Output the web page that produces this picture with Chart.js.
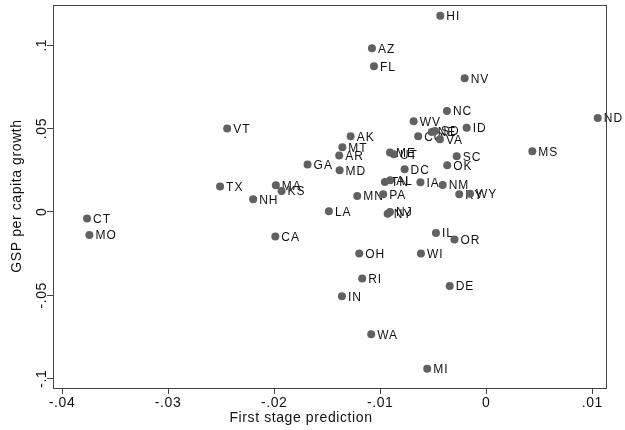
<!DOCTYPE html>
<html><head><meta charset="utf-8">
<script src="https://cdn.jsdelivr.net/npm/chart.js@4/dist/chart.umd.min.js"></script>
<style>html,body{margin:0;padding:0;background:#fff}#wrap{width:625px;height:430px}</style>
</head><body><div id="wrap"><canvas id="c" width="625" height="430"></canvas></div>
<script>
const states = ['HI','AZ','FL','NV','NC','WV','ID','NE','SD','CO','VA','AK','MT','AR','ME','UT','SC','GA','MD','DC','OK','TN','AL','IA','NM','MA','KS','MN','PA','LA','KY','WY','NJ','NY','TX','VT','NH','CT','MO','CA','IL','OR','OH','WI','RI','IN','DE','WA','MI','ND','MS'];
const firstStage = [-0.00434,-0.01078,-0.01059,-0.00204,-0.00371,-0.00685,-0.00185,-0.00515,-0.00484,-0.00642,-0.00437,-0.01279,-0.01357,-0.01387,-0.00908,-0.00871,-0.00279,-0.01685,-0.01383,-0.0077,-0.00368,-0.00956,-0.00906,-0.00621,-0.00411,-0.01984,-0.0193,-0.01217,-0.00972,-0.01484,-0.00255,-0.00154,-0.00908,-0.0093,-0.0251,-0.02443,-0.02198,-0.03764,-0.03742,-0.01989,-0.00475,-0.003,-0.01198,-0.00616,-0.0117,-0.01361,-0.00345,-0.01085,-0.00557,0.01051,0.00434];
const gspGrowth = [0.1176,0.0981,0.0873,0.0801,0.0606,0.0544,0.0505,0.0480,0.0486,0.0454,0.0436,0.0454,0.0388,0.0339,0.0357,0.0346,0.0334,0.0285,0.0250,0.0256,0.0280,0.0180,0.0190,0.0178,0.0162,0.0160,0.0126,0.0096,0.0106,0.0004,0.0106,0.0109,0.0000,-0.0011,0.0152,0.0501,0.0076,-0.0040,-0.0138,-0.0148,-0.0127,-0.0166,-0.0250,-0.0250,-0.0400,-0.0506,-0.0444,-0.0734,-0.0940,0.0564,0.0364];
const xTickValues = [-0.04,-0.03,-0.02,-0.01,0,0.01];
const xTickLabels = ['-.04','-.03','-.02','-.01','0','.01'];
const yTickValues = [-0.1,-0.05,0,0.05,0.1];
const yTickLabels = ['-.1','-.05','0','.05','.1'];
const xTitle = 'First stage prediction';
const yTitle = 'GSP per capita growth';

const FONT = '"Liberation Sans", Arial, sans-serif';

function spacing(ctx, v) { try { ctx.letterSpacing = v; } catch (e) {} }

const labelPlugin = {
  id: 'labels',
  beforeDraw(chart) {
    spacing(chart.ctx, '0.6px');
  },
  beforeDatasetsDraw(chart) {
    const ctx = chart.ctx;
    const meta = chart.getDatasetMeta(0);
    ctx.save();
    ctx.font = '12px ' + FONT;
    spacing(ctx, '1px');
    ctx.fillStyle = '#111';
    ctx.textAlign = 'left';
    ctx.textBaseline = 'middle';
    meta.data.forEach((el, i) => {
      ctx.fillText(states[i], el.x + 6, el.y + 1);
    });
    ctx.restore();
  },
  afterDraw(chart) {
    const ctx = chart.ctx;
    const a = chart.chartArea;
    ctx.save();
    ctx.strokeStyle = '#444';
    ctx.lineWidth = 1;
    ctx.strokeRect(Math.round(a.left) + 0.5, Math.round(a.top) + 0.5, Math.round(a.right - a.left) - 1, Math.round(a.bottom - a.top));
    const ys = chart.scales.y;
    ctx.fillStyle = '#111';
    ctx.font = '14px ' + FONT;
    spacing(ctx, '0.6px');
    ctx.textAlign = 'center';
    ctx.textBaseline = 'middle';
    yTickValues.forEach((v, i) => {
      const py = ys.getPixelForValue(v);
      ctx.save();
      ctx.translate(a.left - 11, py);
      ctx.rotate(-Math.PI / 2);
      ctx.fillText(yTickLabels[i], 0, 0);
      ctx.restore();
    });
    ctx.fillText(xTitle, 301, 418);
    ctx.save();
    ctx.translate(17, 196);
    ctx.rotate(-Math.PI / 2);
    ctx.fillText(yTitle, 0, 0);
    ctx.restore();
    ctx.restore();
  }
};

new Chart(document.getElementById('c'), {
  type: 'scatter',
  data: {
    datasets: [{
      data: firstStage.map((x, i) => ({ x: x, y: gspGrowth[i] })),
      pointRadius: 4,
      pointHoverRadius: 4,
      pointBackgroundColor: '#616161',
      pointBorderWidth: 0
    }]
  },
  options: {
    responsive: false,
    animation: false,
    devicePixelRatio: 1,
    events: [],
    layout: { padding: { top: 5, right: 18, bottom: 0, left: 0 } },
    plugins: { legend: { display: false }, tooltip: { enabled: false } },
    scales: {
      x: {
        type: 'linear',
        min: -0.04085,
        max: 0.01138,
        afterBuildTicks: s => { s.ticks = xTickValues.map(v => ({ value: v })); },
        afterFit: s => { s.height = 42; },
        ticks: {
          callback: v => xTickLabels[xTickValues.indexOf(v)],
          font: { family: FONT, size: 14 },
          color: '#111',
          padding: 1,
          maxRotation: 0,
          autoSkip: false
        },
        grid: { drawOnChartArea: false, drawTicks: true, tickLength: 6, color: '#444' },
        border: { display: false }
      },
      y: {
        type: 'linear',
        min: -0.1056,
        max: 0.1241,
        afterBuildTicks: s => { s.ticks = yTickValues.map(v => ({ value: v })); },
        afterFit: s => { s.width = 53; },
        ticks: { display: false },
        grid: { drawOnChartArea: false, drawTicks: true, tickLength: 6, color: '#444' },
        border: { display: false }
      }
    }
  },
  plugins: [labelPlugin]
});
</script>
</body></html>
